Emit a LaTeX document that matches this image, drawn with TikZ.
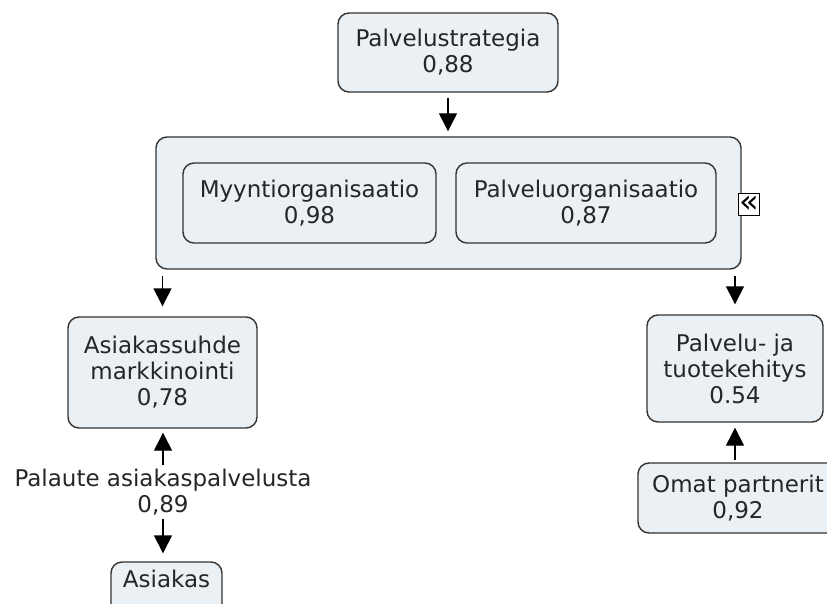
\documentclass[tikz,border=0pt]{standalone}
\usepackage{fontspec}
\setmainfont{DejaVu Sans}
\usetikzlibrary{arrows.meta,calc}
\definecolor{boxfill}{HTML}{EAF0F4}
\definecolor{edge}{HTML}{333333}
\definecolor{txt}{HTML}{262626}
\begin{document}
\begin{tikzpicture}[x=1pt,y=-1pt,
  concept/.style={draw=edge,line width=1.4pt,fill=boxfill,rounded corners=11pt,
    align=center,font=\fontsize{23}{26}\selectfont,text=txt,inner sep=0pt},
  plain/.style={align=center,font=\fontsize{23}{26}\selectfont,text=txt,inner sep=2pt},
  arr/.style={draw=black,line width=1.4pt,-{Triangle[width=18pt,length=18pt]}},
]
\useasboundingbox (0,0) rectangle (827,604);
\fill[white] (0,0) rectangle (827,604);
\begin{scope}
\clip (0,0) rectangle (827,604);
\node[concept,minimum width=220pt,minimum height=79pt] (ps) at (448,52.5) {Palvelustrategia\\0,88};
\node[concept,minimum width=585pt,minimum height=132pt] (big) at (448.5,203) {};
\node[concept,minimum width=253pt,minimum height=80pt] (myy) at (309.5,203) {Myyntiorganisaatio\\0,98};
\node[concept,minimum width=260pt,minimum height=80pt] (pal) at (586,203) {Palveluorganisaatio\\0,87};
\node[draw=black,fill=white,line width=1pt,minimum width=21pt,minimum height=22pt,inner sep=0pt,
  font=\fontsize{32}{32}\selectfont] (icon) at (749,204.5) {«};
\node[concept,minimum width=189pt,minimum height=111pt] (asm) at (162.5,372.5) {Asiakassuhde\\markkinointi\\0,78};
\node[plain] (lab) at (163,492) {Palaute asiakaspalvelusta\\0,89};
\node[concept,minimum width=111pt,text height=25pt,text depth=30pt] (asi) at (166.5,589.5) {Asiakas};
\node[concept,minimum width=176pt,minimum height=107pt] (pjt) at (735,368.5) {Palvelu- ja\\tuotekehitys\\0.54};
\node[concept,minimum width=200pt,minimum height=70pt] (omat) at (738,498) {Omat partnerit\\0,92};
\end{scope}
\draw[arr,shorten <=5pt,shorten >=5pt] (ps.south) -- (big.north -| ps.south);
\draw[arr,shorten <=6pt,shorten >=10pt] (asm.north |- big.south) -- (asm.north);
\draw[arr,shorten <=6pt,shorten >=10pt] (pjt.north |- big.south) -- (pjt.north);
\draw[arr,shorten <=2pt,shorten >=4pt] (lab.north) -- (asm.south -| lab.north);
\draw[arr,shorten <=2pt,shorten >=8pt] (lab.south) -- (asi.north -| lab.south);
\draw[arr,shorten <=2pt,shorten >=5pt] (pjt.south |- omat.north) -- (pjt.south);
\end{tikzpicture}
\end{document}
